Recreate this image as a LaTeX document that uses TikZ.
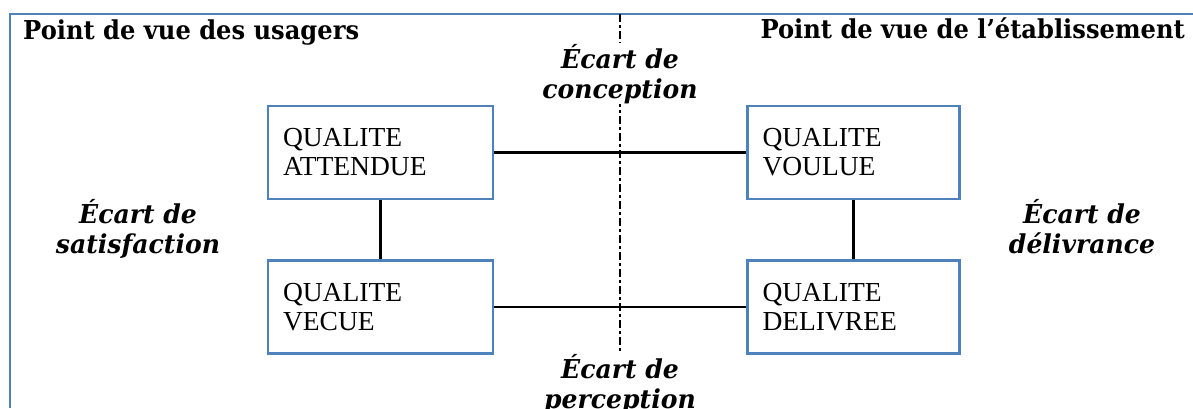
\documentclass[tikz,border=0pt]{standalone}
\usepackage{fontspec}
\setmainfont{Liberation Serif}
\newfontfamily\headfont[FakeStretch=0.93]{DejaVu Serif}
\newfontfamily\gapfont[FakeStretch=0.965]{DejaVu Serif}
\usetikzlibrary{positioning}
\definecolor{boxblue}{HTML}{4F81BD}

\begin{document}
\begin{tikzpicture}[x=1pt, y=-1pt,
  qbox/.style={draw=boxblue, line width=2.5pt, text width=#1, align=left, inner xsep=15pt, minimum height=93pt, font=\fontsize{27.5}{29}\selectfont},
  headtxt/.style={inner sep=0pt, font=\headfont\bfseries\fontsize{26}{29}\selectfont},
  gaptxt/.style={align=center, inner sep=1pt, font=\gapfont\bfseries\itshape\fontsize{26}{29.5}\selectfont},
  link/.style={line width=2.2pt},
  divline/.style={line width=2.4pt, dash pattern=on 8pt off 3pt on 3pt off 3pt}]
\useasboundingbox (0,0) rectangle (1193,408);
\draw[boxblue, line width=2.8pt] (10,408) |- (1193,14);

\node[headtxt, anchor=base west] (usagers) at (23,39) {Point de vue des usagers};
\node[headtxt, anchor=base east] (etab) at (1185,38) {Point de vue de l’établissement};

\coordinate (divtop) at (620,14);
\coordinate (divbot) at (620,352);
\draw[divline] (divtop) -- (divbot);

\node[qbox=195pt] (attendue) at (380.5,152.5) {QUALITE\\ATTENDUE};
\node[qbox=182pt, right=252pt of attendue] (voulue) {QUALITE\\VOULUE};
\node[qbox=195pt, below=59pt of attendue] (vecue) {QUALITE\\VECUE};
\node[qbox=182pt, below=59pt of voulue] (delivree) {QUALITE\\DELIVREE};

\draw[link] (attendue) -- (voulue);
\draw[link] (vecue) -- (delivree);
\draw[link] (attendue) -- (vecue);
\draw[link] (voulue) -- (delivree);

\node[gaptxt, fill=white, anchor=base] (conception) at (620,98) {Écart de\\conception};
\node[gaptxt, anchor=base] (perception) at (620,408) {Écart de\\perception};
\node[gaptxt, anchor=base] (satisfaction) at (138,253) {Écart de\\satisfaction};
\node[gaptxt, anchor=base] (delivrance) at (1082,253) {Écart de\\délivrance};
\end{tikzpicture}
\end{document}
